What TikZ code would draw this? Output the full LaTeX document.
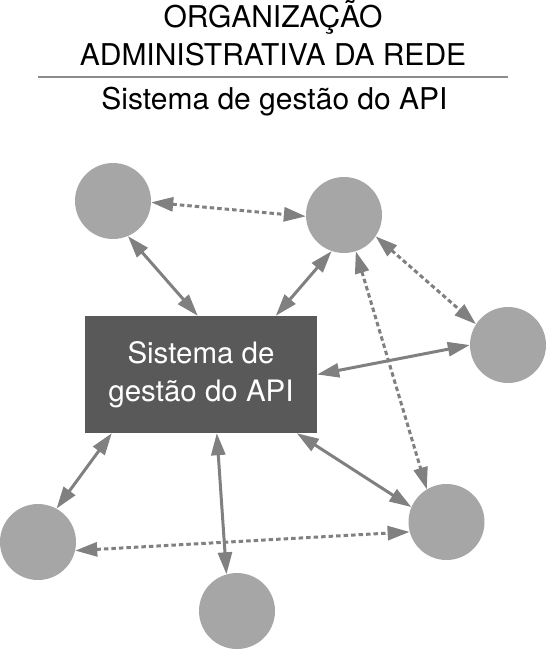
\documentclass[tikz,border=0pt]{standalone}
\usepackage{fontspec}
\setmainfont{TeX Gyre Heros}
\usetikzlibrary{arrows.meta}
\definecolor{peergray}{HTML}{A6A6A6}
\definecolor{boxgray}{HTML}{595959}
\definecolor{arrowgray}{HTML}{808080}
\definecolor{rulegray}{HTML}{8C8C8C}

\begin{document}
\begin{tikzpicture}[x=1pt,y=-1pt,
    peer/.style={circle, fill=peergray, minimum size=76pt, inner sep=0pt},
    system/.style={rectangle, fill=boxgray, minimum width=232pt, minimum height=117pt, inner sep=0pt, align=center, text=white, font=\fontsize{29.5}{38}\selectfont},
    heading/.style={align=center, inner sep=0pt, font=\fontsize{30}{38}\selectfont},
    arrow/.style={{Triangle[length=22pt,width=14pt]}-{Triangle[length=22pt,width=14pt]}, line width=3pt, arrowgray},
    dottedarrow/.style={arrow, dash pattern=on 4.5pt off 3pt}
]
    \useasboundingbox (0,0) rectangle (547,650);

    \node[heading, anchor=base] (title) at (273,66) {ORGANIZAÇÃO\\ADMINISTRATIVA DA REDE};
    \draw[rulegray, line width=1.5pt] (38,77) -- (508,77);
    \node[heading, anchor=base] (subtitle) at (274.5,110) {Sistema de gestão do API};

    \node[system] (sys) at (201,374.5) {Sistema de\\gestão do API};

    \node[peer] (peerA) at (113,201) {};
    \node[peer] (peerB) at (344,215) {};
    \node[peer] (peerC) at (508,345) {};
    \node[peer] (peerD) at (446.5,522) {};
    \node[peer] (peerE) at (38,542) {};
    \node[peer] (peerF) at (237,611) {};

    \draw[arrow] (peerA.-67) -- ([xshift=113pt]sys.north west);
    \draw[arrow] (peerB.-109) -- ([xshift=191pt]sys.north west);
    \draw[arrow] (peerC.west) -- (sys.east);
    \draw[arrow] ([xshift=212pt]sys.south west) -- (peerD.157);
    \draw[arrow] ([xshift=132pt]sys.south west) -- (peerF.106);
    \draw[arrow] ([xshift=27pt]sys.south west) -- (peerE.61);

    \draw[dottedarrow] (peerA.-2) -- (peerB.182);
    \draw[dottedarrow] (peerB.-34) -- (peerC.147);
    \draw[dottedarrow] (peerB.-72) -- (peerD.121);
    \draw[dottedarrow] (peerE.-13) -- (peerD.195);
\end{tikzpicture}
\end{document}
